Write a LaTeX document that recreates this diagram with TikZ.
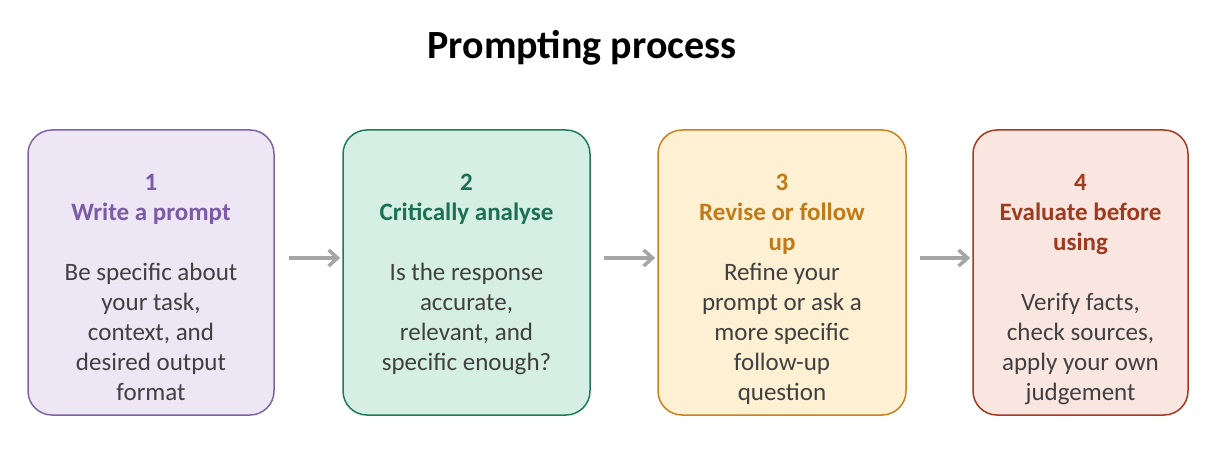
\documentclass[tikz,border=0pt]{standalone}
\usepackage{fontspec}
\setmainfont{Carlito}
\usetikzlibrary{arrows.meta}
\definecolor{bodytext}{HTML}{404040}
\definecolor{arrowgray}{HTML}{A6A6A6}
\definecolor{pfill}{HTML}{ECE6F5}\definecolor{pline}{HTML}{8064A2}\definecolor{ptext}{HTML}{7B5AA6}
\definecolor{gfill}{HTML}{D6EFE5}\definecolor{gline}{HTML}{1E7A5A}\definecolor{gtext}{HTML}{1B7055}
\definecolor{yfill}{HTML}{FDF0D3}\definecolor{yline}{HTML}{C8811D}\definecolor{ytext}{HTML}{C07A18}
\definecolor{rfill}{HTML}{FAE6E1}\definecolor{rline}{HTML}{A3391F}\definecolor{rtext}{HTML}{9E3A1E}
\tikzset{
  stepbox/.style={rounded corners=24pt, line width=1.5pt, minimum height=285pt, inner sep=0pt},
  steptext/.style={anchor=north, align=center, text=bodytext, inner sep=0pt,
     font=\fontsize{25}{30}\selectfont},
  flow/.style={draw=arrowgray, line width=3.5pt, -{Straight Barb[length=9pt,width=16pt,line width=3.5pt]}},
}
\newcommand{\hd}[2]{\textcolor{#1}{\bfseries\fontsize{25}{30}\selectfont #2}}
\begin{document}
\begin{tikzpicture}[x=1pt,y=-1pt]
\useasboundingbox (0,0) rectangle (1220,454);
\node[font=\bfseries\fontsize{40}{44}\selectfont, text=black] (title) at (582,48) {Prompting process};

\node[stepbox, draw=pline, fill=pfill, minimum width=246pt] (b1) at (151,272.5) {};
\node[stepbox, draw=gline, fill=gfill, minimum width=247pt] (b2) at (466.5,272.5) {};
\node[stepbox, draw=yline, fill=yfill, minimum width=248pt] (b3) at (782,272.5) {};
\node[stepbox, draw=rline, fill=rfill, minimum width=215pt] (b4) at (1080.5,272.5) {};

\node[steptext] (t1) at (151,174) {\hd{ptext}{1}\\ \hd{ptext}{Write a prompt}\\[30pt] Be specific about\\ your task,\\ context, and\\ desired output\\ format};
\node[steptext] (t2) at (466.5,174) {\hd{gtext}{2}\\ \hd{gtext}{Critically analyse}\\[30pt] Is the response\\ accurate,\\ relevant, and\\ specific enough?};
\node[steptext] (t3) at (782,174) {\hd{ytext}{3}\\ \hd{ytext}{Revise or follow}\\ \hd{ytext}{up}\\ Refine your\\ prompt or ask a\\ more specific\\ follow-up\\ question};
\node[steptext] (t4) at (1080.5,174) {\hd{rtext}{4}\\ \hd{rtext}{Evaluate before}\\ \hd{rtext}{using}\\[30pt] Verify facts,\\ check sources,\\ apply your own\\ judgement};

\draw[flow, shorten <=14pt, shorten >=2pt] ([yshift=14.5pt]b1.east) -- ([yshift=14.5pt]b2.west);
\draw[flow, shorten <=13pt, shorten >=2pt] ([yshift=14.5pt]b2.east) -- ([yshift=14.5pt]b3.west);
\draw[flow, shorten <=13pt, shorten >=2pt] ([yshift=14.5pt]b3.east) -- ([yshift=14.5pt]b4.west);
\end{tikzpicture}
\end{document}
